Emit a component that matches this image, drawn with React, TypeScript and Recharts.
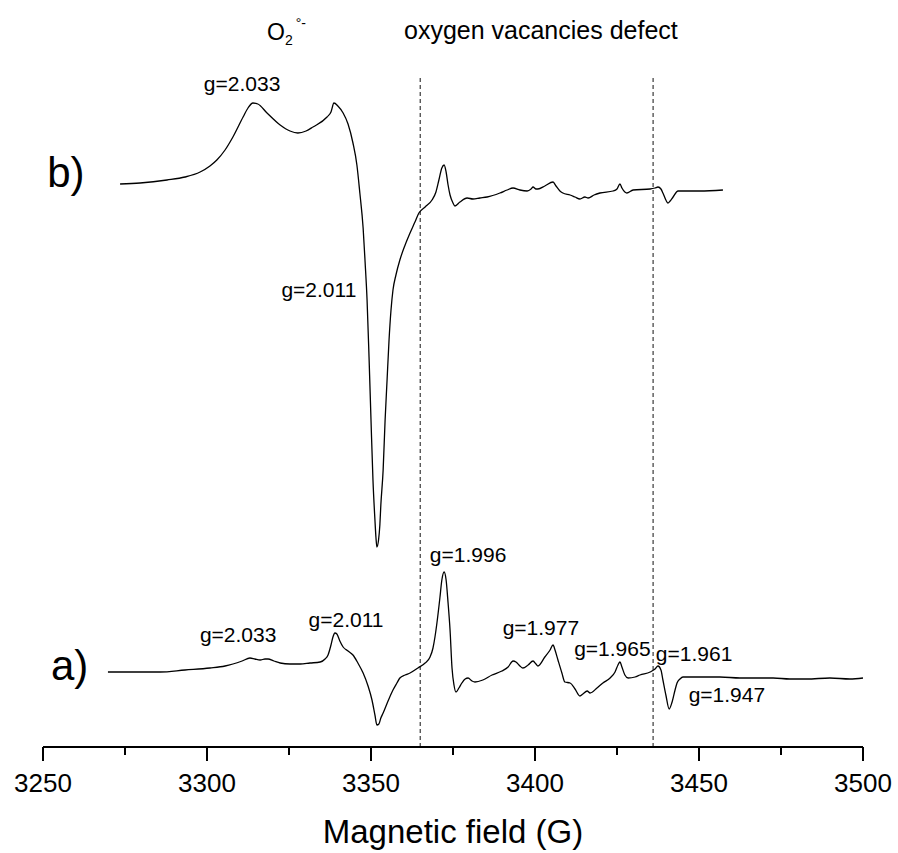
import React from "react";
import {
  LineChart,
  Line,
  XAxis,
  YAxis,
  ReferenceLine,
  ReferenceDot,
} from "recharts";

// EPR spectra, intensity in arbitrary units
const bField = [
  3273.5, 3279.6, 3287.8, 3293.3, 3297.9, 3300.9, 3303.0, 3305.5, 3307.9, 3311.0,
  3312.5, 3314.0, 3315.5, 3318.3, 3322.3, 3325.3, 3327.7, 3330.2, 3332.3, 3336.6,
  3337.8, 3338.7, 3339.9, 3341.5, 3343.0, 3344.5, 3345.7, 3346.6, 3347.6, 3348.2,
  3348.8, 3349.4, 3350.0, 3350.6, 3351.2, 3351.5, 3351.8, 3352.3, 3352.7, 3353.0,
  3353.7, 3354.3, 3354.9, 3355.5, 3356.1, 3356.7, 3357.6, 3358.8, 3360.4, 3361.9,
  3363.4, 3364.6, 3366.5, 3368.6, 3369.8, 3370.7, 3371.6, 3372.3, 3372.9, 3373.5,
  3374.1, 3375.0, 3375.6, 3377.1, 3379.3, 3381.1, 3383.2, 3385.4, 3389.3, 3391.5,
  3393.3, 3395.4, 3397.6, 3398.8, 3399.4, 3400.3, 3400.9, 3403.0, 3405.5, 3406.4,
  3407.6, 3408.5, 3410.7, 3412.2, 3413.7, 3415.2, 3416.2, 3418.0, 3419.8, 3423.8,
  3425.0, 3425.9, 3426.5, 3427.4, 3428.0, 3429.9, 3435.1, 3436.6, 3437.5, 3438.4,
  3439.0, 3439.9, 3440.5, 3441.2, 3442.1, 3443.6, 3447.3, 3450.3, 3457.3,
];
const bIntensity = [
  563, 564, 567, 570, 575, 581, 587, 597, 610, 630,
  639, 644, 643, 634, 622, 616, 614, 616, 620, 630,
  635, 644, 641, 634, 623, 604, 582, 554, 519, 485,
  447, 390, 327, 267, 227, 210, 200, 207, 222, 242,
  277, 327, 367, 407, 437, 457, 472, 487, 502, 514,
  525, 534, 540, 547, 555, 567, 579, 582, 575, 562,
  552, 544, 541, 545, 549, 548, 549, 550, 554, 557,
  559, 557, 556, 558, 560, 558, 558, 561, 565, 561,
  556, 554, 552, 550, 548, 550, 549, 552, 554, 556,
  558, 563, 559, 555, 554, 557, 558, 559, 560, 558,
  554, 547, 544, 546, 550, 556, 556, 556, 557,
];

const aField = [
  3269.8, 3276.5, 3285.7, 3293.3, 3300.9, 3305.5, 3307.9, 3310.7, 3313.1, 3314.6,
  3316.2, 3317.7, 3318.6, 3320.4, 3322.3, 3325.3, 3328.4, 3331.4, 3334.5, 3336.0,
  3336.9, 3337.8, 3338.4, 3339.0, 3339.6, 3340.5, 3341.5, 3343.0, 3344.5, 3346.0,
  3347.6, 3349.1, 3350.3, 3351.2, 3351.8, 3352.4, 3353.0, 3353.7, 3355.2, 3356.7,
  3357.9, 3358.8, 3360.4, 3361.9, 3364.3, 3366.5, 3368.0, 3368.9, 3369.5, 3370.1,
  3371.0, 3371.6, 3372.3, 3372.9, 3373.5, 3374.1, 3374.7, 3375.3, 3375.9, 3376.8,
  3377.7, 3378.7, 3379.6, 3380.8, 3381.7, 3384.1, 3386.9, 3389.9, 3391.8, 3393.3,
  3394.2, 3395.4, 3396.3, 3397.9, 3399.4, 3400.3, 3400.9, 3403.0, 3404.6, 3405.5,
  3406.1, 3407.0, 3408.2, 3409.1, 3410.7, 3412.2, 3413.7, 3414.6, 3415.9, 3416.8,
  3418.9, 3420.7, 3422.9, 3424.4, 3425.3, 3425.9, 3426.5, 3427.4, 3428.4, 3430.5,
  3432.0, 3435.1, 3436.6, 3437.5, 3438.4, 3439.0, 3439.9, 3440.9, 3441.8, 3442.7,
  3443.3, 3444.2, 3445.1, 3450.3, 3456.4, 3462.5, 3468.6, 3472.6, 3477.7, 3482.9,
  3489.9, 3496.0, 3500.0,
];
const aIntensity = [
  75, 75, 75, 77, 79, 81, 83, 86, 89, 88,
  87, 88, 88, 86, 84, 83, 83, 84, 85, 88,
  92, 102, 110, 114, 113, 106, 100, 96, 92, 84,
  74, 61, 47, 32, 22, 23, 29, 34, 46, 57,
  64, 69, 72, 74, 79, 84, 90, 99, 110, 124,
  149, 167, 175, 167, 144, 117, 79, 62, 55, 59,
  64, 68, 69, 66, 65, 67, 72, 76, 80, 86,
  85, 81, 79, 82, 86, 83, 81, 90, 97, 102,
  97, 87, 74, 65, 64, 58, 51, 53, 56, 54,
  59, 64, 69, 75, 82, 85, 80, 72, 69, 70,
  72, 75, 78, 81, 77, 67, 52, 38, 45, 57,
  64, 68, 70, 70, 70, 69, 69, 69, 68, 68,
  69, 68, 69,
];

const fieldTicks = [
  3250, 3275, 3300, 3325, 3350, 3375, 3400, 3425, 3450, 3475, 3500,
];
const defectLines = [3365, 3436];

const gLabels = [
  { text: "g=2.033", field: 3310.7, intensity: 663 },
  { text: "g=2.011", field: 3334.1, intensity: 457 },
  { text: "g=2.033", field: 3309.5, intensity: 112 },
  { text: "g=2.011", field: 3342.4, intensity: 127 },
  { text: "g=1.996", field: 3379.6, intensity: 192 },
  { text: "g=1.977", field: 3401.8, intensity: 119 },
  { text: "g=1.965", field: 3423.6, intensity: 98 },
  { text: "g=1.961", field: 3448.5, intensity: 93 },
  { text: "g=1.947", field: 3458.5, intensity: 52 },
];
const panelLabels = [
  { text: "b)", field: 3257.0, intensity: 575 },
  { text: "a)", field: 3258.1, intensity: 82 },
];

const spectrumB = bField.map((field, i) => ({ field, intensity: bIntensity[i] }));
const spectrumA = aField.map((field, i) => ({ field, intensity: aIntensity[i] }));

const FONT = "'Liberation Sans', Arial, sans-serif";

const FieldTick = (props: any) => {
  const { x, y, payload } = props;
  const major = payload.value % 50 === 0;
  return (
    <g>
      <line x1={x} x2={x} y1={y} y2={y + (major ? 14 : 8)} stroke="#000" strokeWidth={2} />
      {major && (
        <text x={x} y={y + 45} textAnchor="middle" fontSize={26} fontFamily={FONT} fill="#000">
          {payload.value}
        </text>
      )}
    </g>
  );
};

const SuperoxideLabel = (props: any) => {
  const { x, y } = props.viewBox;
  return (
    <text x={x} y={y} fontSize={23} fontFamily={FONT} fill="#000">
      O
      <tspan fontSize={14} dy={5}>2</tspan>
      <tspan fontSize={14} dx={3} dy={-17}>°-</tspan>
    </text>
  );
};

export default function App() {
  return (
    <div style={{ position: "absolute", left: 0, top: 0, background: "#fff" }}>
      <LineChart
        width={898}
        height={853}
        margin={{ top: 10, right: 35, bottom: 0, left: 43 }}
      >
        <XAxis
          type="number"
          dataKey="field"
          domain={[3250, 3500]}
          ticks={fieldTicks}
          interval={0}
          height={106}
          tickSize={0}
          tickMargin={0}
          tickLine={false}
          tick={<FieldTick />}
          axisLine={{ stroke: "#000", strokeWidth: 2 }}
          label={{
            value: "Magnetic field (G)",
            position: "insideBottom",
            offset: 10,
            fontSize: 33,
            fontFamily: FONT,
            fill: "#000",
          }}
        />
        <YAxis hide width={0} type="number" domain={[0, 737]} allowDataOverflow />
        {defectLines.map((f) => (
          <ReferenceLine
            key={f}
            segment={[
              { x: f, y: 0 },
              { x: f, y: 672 },
            ]}
            stroke="#111"
            strokeWidth={1}
            strokeDasharray="4 3"
          />
        ))}
        <Line
          data={spectrumB}
          dataKey="intensity"
          type="monotone"
          dot={false}
          stroke="#000"
          strokeWidth={1.3}
          isAnimationActive={false}
        />
        <Line
          data={spectrumA}
          dataKey="intensity"
          type="monotone"
          dot={false}
          stroke="#000"
          strokeWidth={1.3}
          isAnimationActive={false}
        />
        {gLabels.map((l, i) => (
          <ReferenceDot
            key={"g" + i}
            x={l.field}
            y={l.intensity}
            r={0}
            stroke="none"
            fill="none"
            label={{ value: l.text, position: "center", fontSize: 21, fontFamily: FONT, fill: "#000" }}
          />
        ))}
        {panelLabels.map((l) => (
          <ReferenceDot
            key={l.text}
            x={l.field}
            y={l.intensity}
            r={0}
            stroke="none"
            fill="none"
            label={{ value: l.text, position: "center", fontSize: 42, fontFamily: FONT, fill: "#000" }}
          />
        ))}
        <ReferenceDot
          x={3318.3}
          y={707}
          r={0}
          stroke="none"
          fill="none"
          label={<SuperoxideLabel />}
        />
        <ReferenceDot
          x={3401.8}
          y={717}
          r={0}
          stroke="none"
          fill="none"
          label={{
            value: "oxygen vacancies defect",
            position: "center",
            fontSize: 25,
            fontFamily: FONT,
            fill: "#000",
          }}
        />
      </LineChart>
    </div>
  );
}
